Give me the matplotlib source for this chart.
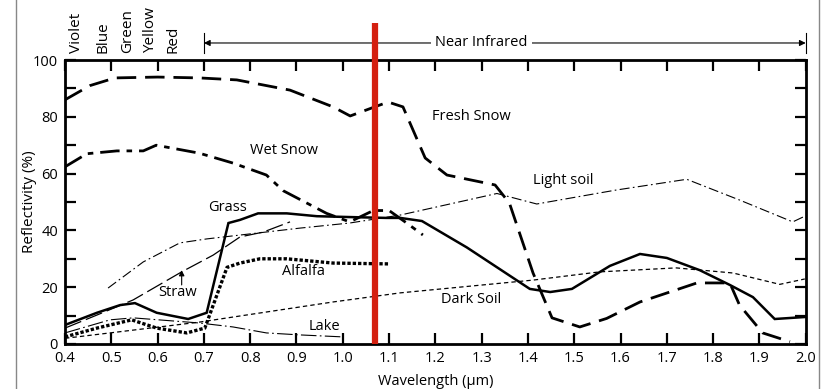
import matplotlib
matplotlib.use("Agg")
import matplotlib.pyplot as plt
from matplotlib.lines import Line2D

plt.rcParams['font.family'] = ['Open Sans', 'DejaVu Sans']

# Spectral reflectance curves (wavelength in µm, reflectivity in %)
fresh_snow_wl = [0.40, 0.454, 0.508, 0.60, 0.69, 0.771, 0.886, 0.979, 1.016, 1.074, 1.098, 1.13,
                 1.178, 1.225, 1.329, 1.36, 1.411, 1.452, 1.512, 1.57, 1.642, 1.765, 1.836, 1.857,
                 1.907, 1.966]
fresh_snow = [86, 91, 93.7, 94, 93.7, 93, 89.4, 83.5, 80.3, 83.8, 85.2, 83.5,
              65.5, 59.5, 56, 49.6, 25, 9.2, 6, 9, 14.8, 21.5, 21.5, 13.7, 3.9, 0.8]

wet_snow_wl = [0.40, 0.447, 0.512, 0.569, 0.597, 0.69, 0.763, 0.835, 0.871, 0.965, 1.015,
               1.066, 1.10, 1.138, 1.173]
wet_snow = [62.4, 67, 68, 68, 70, 67.2, 63.7, 59.5, 54, 46, 43, 47, 47, 42.6, 38.4]

grass_wl = [0.40, 0.469, 0.519, 0.551, 0.598, 0.666, 0.706, 0.753, 0.778, 0.817, 0.879, 0.944,
            1.015, 1.094, 1.124, 1.171, 1.268, 1.404, 1.448, 1.495, 1.577, 1.642, 1.70, 1.771,
            1.836, 1.886, 1.933, 1.998]
grass = [6.7, 11, 13.7, 14.4, 11, 8.8, 11, 42.6, 43.7, 46, 46, 45, 44.7, 44.4, 44.4, 43.3, 34,
         19.4, 18.3, 19.4, 27.5, 31.7, 30.3, 26, 20.8, 16.5, 8.8, 9.5]

light_soil_wl = [0.493, 0.569, 0.648, 0.706, 0.907, 1.015, 1.124, 1.333, 1.419, 1.59, 1.743,
                 1.857, 1.972, 1.998]
light_soil = [19.7, 28.9, 35.6, 37, 40.8, 42.6, 45.4, 53, 49.3, 54.2, 58, 50.7, 43, 45]

straw_wl = [0.40, 0.469, 0.547, 0.652, 0.72, 0.778, 0.828, 0.886]
straw = [5.6, 10.2, 15.5, 25.4, 31.3, 37.7, 39.4, 43]

alfalfa_wl = [0.40, 0.469, 0.544, 0.598, 0.663, 0.702, 0.75, 0.778, 0.821, 0.879, 0.979, 1.102]
alfalfa = [2.5, 5.6, 8.5, 5.6, 3.9, 5.6, 27, 28.5, 30, 30, 28.5, 28.2]

dark_soil_wl = [0.40, 0.497, 0.69, 0.979, 1.124, 1.411, 1.555, 1.72, 1.843, 1.944, 1.998]
dark_soil = [2, 3.9, 7.7, 14.8, 18, 22.5, 25.4, 26.8, 25, 21, 22.9]

lake_wl = [0.40, 0.497, 0.547, 0.69, 0.763, 0.835, 0.907, 1.0]
lake = [3.9, 8.5, 9.2, 7.4, 6, 3.9, 3.2, 2.5]

# Visible band names along the top
band_names = ["Violet", "Blue", "Green", "Yellow", "Red"]
band_wl = [0.424, 0.482, 0.536, 0.584, 0.633]

laser_wl = 1.07

fig = plt.figure(figsize=(8.23, 3.89), dpi=100)
ax = fig.add_axes([0.079, 0.1157, 0.9, 0.730])

ax.plot(fresh_snow_wl, fresh_snow, color='black', lw=2.0, dashes=(7, 3.2))
ax.plot(wet_snow_wl, wet_snow, color='black', lw=2.0, dashes=(7, 2.5, 2, 2.5))
ax.plot(grass_wl, grass, color='black', lw=1.8, solid_joinstyle='miter')
ax.plot(light_soil_wl, light_soil, color='black', lw=0.8, dashes=(9, 3, 1.5, 3))
ax.plot(straw_wl, straw, color='black', lw=0.9, dashes=(14, 4))
ax.plot(alfalfa_wl, alfalfa, color='black', lw=2.4, dashes=(1.0, 0.6))
ax.plot(dark_soil_wl, dark_soil, color='black', lw=0.9, dashes=(3.5, 2.5))
ax.plot(lake_wl, lake, color='black', lw=0.8, dashes=(14, 3, 1.5, 3))

# Laser wavelength marker
ax.plot([laser_wl, laser_wl], [0, 113], color='#d42010', lw=4.5, clip_on=False,
        solid_capstyle='butt', zorder=5)

# Curve labels
fs = 10.5
lbl = dict(fontsize=fs, color='black')
ax.text(1.193, 80, "Fresh Snow", ha='left', va='center', **lbl)
ax.text(0.80, 68.3, "Wet Snow", ha='left', va='center', **lbl)
ax.text(1.41, 57.7, "Light soil", ha='left', va='center', **lbl)
ax.text(0.709, 47.9, "Grass", ha='left', va='center', **lbl)
ax.text(0.869, 25.4, "Alfalfa", ha='left', va='center', **lbl)
ax.text(0.601, 18.0, "Straw", ha='left', va='center', **lbl)
ax.text(0.927, 6.3, "Lake", ha='left', va='center', **lbl)
ax.text(1.212, 15.5, "Dark Soil", ha='left', va='center', **lbl)
ax.annotate("", xy=(0.652, 26), xytext=(0.652, 20.8),
            arrowprops=dict(arrowstyle='-|>', color='black', lw=0.8,
                            mutation_scale=8, shrinkA=0, shrinkB=0))

# Band names
for name, w in zip(band_names, band_wl):
    ax.text(w, 102.5, name, rotation=90, ha='center', va='bottom', fontsize=11,
            clip_on=False)

# Near infrared span
nir_y = 106
ax.annotate("", xy=(0.70, nir_y), xytext=(1.30, nir_y), annotation_clip=False,
            arrowprops=dict(arrowstyle='-|>', color='black', lw=0.8,
                            mutation_scale=9, shrinkA=0, shrinkB=0))
ax.annotate("", xy=(2.0, nir_y), xytext=(1.30, nir_y), annotation_clip=False,
            arrowprops=dict(arrowstyle='-|>', color='black', lw=0.8,
                            mutation_scale=9, shrinkA=0, shrinkB=0))
for w in (0.70, 2.0):
    ax.plot([w, w], [102.5, 109.5], color='black', lw=0.8, clip_on=False)
ax.text(1.30, nir_y, "Near Infrared", ha='center', va='center', fontsize=fs,
        bbox=dict(facecolor='white', edgecolor='none', pad=3), zorder=6)

ax.set_xlim(0.4, 2.0)
ax.set_ylim(0, 100)
ax.set_xticks([round(0.4 + 0.1 * i, 1) for i in range(17)])
ax.set_xticklabels([f"{0.4 + 0.1 * i:.1f}" for i in range(17)])
ax.set_yticks(range(0, 101, 10))
ax.set_yticklabels([str(v) if v % 20 == 0 else "" for v in range(0, 101, 10)])
ax.tick_params(direction='in', length=8, width=1.6, top=True, right=True,
               labelsize=fs)
ax.tick_params(axis='x', pad=5)
ax.tick_params(axis='y', pad=5)
for s in ax.spines.values():
    s.set_linewidth(2)

ax.set_xlabel("Wavelength (µm)", fontsize=fs, labelpad=6)
ax.set_ylabel("Reflectivity (%)", fontsize=11, labelpad=-3)

# Page border rules
fig.add_artist(Line2D([16 / 823, 16 / 823], [0, 1], color='#888888', lw=1))
fig.add_artist(Line2D([819 / 823, 819 / 823], [0, 1], color='#888888', lw=1))

fig.savefig("out.png", dpi=100)
